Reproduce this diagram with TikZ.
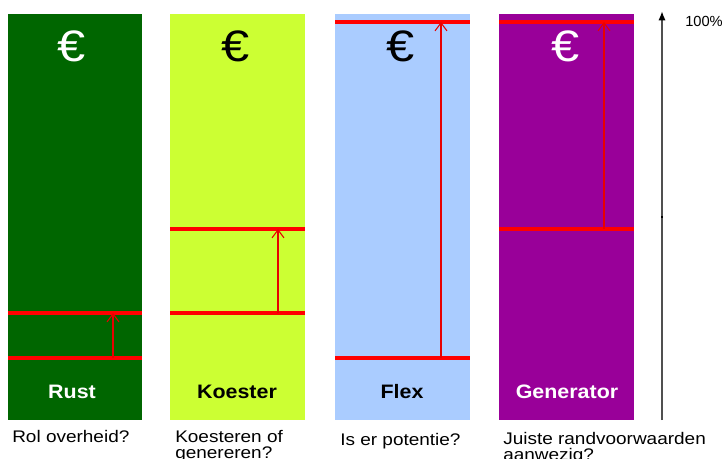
\documentclass[tikz,border=0pt]{standalone}
\usepackage{fontspec}
\setmainfont{Liberation Sans}
\newfontfamily\widesans[FakeStretch=1.13]{Liberation Sans}
\newfontfamily\labelsans[FakeStretch=1.1]{Liberation Sans}
\newfontfamily\eurosans[FakeStretch=1.15]{Liberation Sans}
\usetikzlibrary{arrows.meta}
\definecolor{cgreen}{HTML}{006600}
\definecolor{cyellow}{HTML}{CCFF33}
\definecolor{cblue}{HTML}{AACCFF}
\definecolor{cpurple}{HTML}{990099}
\definecolor{cred}{HTML}{FF0000}
\definecolor{carrow}{HTML}{E80000}
\definecolor{caxis}{HTML}{505050}
\begin{document}
\begin{tikzpicture}[x=0.75pt,y=-0.75pt,
  level/.style={cred,line width=3pt},
  rise/.style={carrow,line width=0.8pt,-{Straight Barb[length=6pt,width=9pt,line width=0.8pt]}},
  euro/.style={font=\eurosans\fontsize{33}{33}\selectfont,anchor=center,inner sep=0pt},
  colname/.style={font=\labelsans\fontsize{14.6}{16}\selectfont\bfseries,anchor=base,inner sep=0pt},
  question/.style={font=\widesans\fontsize{12.6}{12}\selectfont,anchor=north west,align=left,inner sep=0pt}]
\useasboundingbox (0,0) rectangle (728,459);
% columns
\fill[cgreen]  (8,14) rectangle (142,420);
\fill[cyellow] (170,14) rectangle (305,420);
\fill[cblue]   (335,14) rectangle (470,420);
\fill[cpurple] (499,14) rectangle (634,420);
% euro signs
\node[euro,text=white] (e1) at (72,46) {€};
\node[euro,text=black] (e2) at (236,46) {€};
\node[euro,text=black] (e3) at (401,46) {€};
\node[euro,text=white] (e4) at (566,46) {€};
% level lines
\draw[level] (8,313) -- (142,313);
\draw[level] (8,358) -- (142,358);
\draw[level] (170,229) -- (305,229);
\draw[level] (170,313) -- (305,313);
\draw[level] (335,22) -- (470,22);
\draw[level] (335,358) -- (470,358);
\draw[level] (499,22) -- (634,22);
\draw[level] (499,229) -- (634,229);
% arrow endpoints
\coordinate (a1s) at (113,358); \coordinate (a1e) at (113,313);
\coordinate (a2s) at (278,313); \coordinate (a2e) at (278,229);
\coordinate (a3s) at (441,358); \coordinate (a3e) at (441,22);
\coordinate (a4s) at (604,229); \coordinate (a4e) at (604,22);
\draw[rise] (a1s) -- (a1e);
\draw[rise] (a2s) -- (a2e);
\draw[rise] (a3s) -- (a3e);
\draw[rise] (a4s) -- (a4e);
% names
\node[colname,text=white] (n1) at (72,398) {Rust};
\node[colname,text=black] (n2) at (237,398) {Koester};
\node[colname,text=black] (n3) at (402,398) {Flex};
\node[colname,text=white] (n4) at (567,398) {Generator};
% axis
\coordinate (ax0) at (662,420);
\coordinate (ax1) at (662,11);
\draw[caxis,line width=1.4pt,-{Latex[length=7pt,width=5.5pt,black]}] (ax0) -- (ax1);
\draw[black,line width=1.2pt] (661,217) -- (663,217);
\node[font=\fontsize{11}{12}\selectfont,anchor=base west,inner sep=0pt] (pct) at (685,27) {100\%};
% questions
\node[question] (q1) at (12,430) {Rol overheid?};
\node[question] (q2) at (175,430) {Koesteren of\\genereren?};
\node[question] (q3) at (340,433) {Is er potentie?};
\node[question] (q4) at (503,432) {Juiste randvoorwaarden\\aanwezig?};
\end{tikzpicture}
\end{document}
